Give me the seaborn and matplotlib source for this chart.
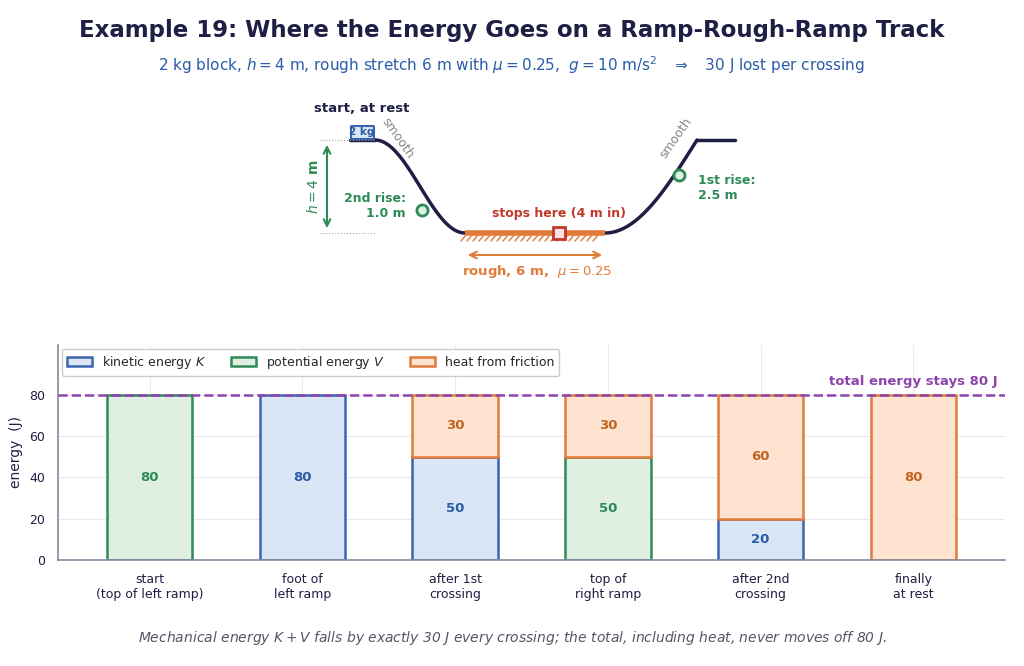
import numpy as np
import pandas as pd
import matplotlib
matplotlib.use("Agg")
import matplotlib.pyplot as plt
import seaborn as sns
from matplotlib.patches import Rectangle, FancyBboxPatch

categories = ["start\n(top of left ramp)", "foot of\nleft ramp", "after 1st\ncrossing",
              "top of\nright ramp", "after 2nd\ncrossing", "finally\nat rest"]
kinetic = [0, 80, 50, 0, 20, 0]
potential = [80, 0, 0, 50, 0, 0]
heat = [0, 0, 30, 30, 60, 80]
total = 80

sns.set_theme(style="whitegrid")
plt.rcParams['font.family'] = ['DejaVu Sans']

fig = plt.figure(figsize=(10.24, 6.66), dpi=100)
W, H = 1024, 666
dark = "#1f1f45"
blue_e, blue_f, blue_t = "#3a66b0", "#dae6f5", "#2a5ca8"
green_e, green_f, green_t = "#2e8b57", "#dff0e3", "#2e8b57"
or_e, or_f, or_t = "#e07b39", "#fde3d0", "#c0651f"
purple = "#8e44ad"

fig.text(0.5, 1 - 30 / H, "Example 19: Where the Energy Goes on a Ramp-Rough-Ramp Track",
         ha="center", va="center", fontsize=16.5, fontweight="bold", color=dark)
fig.text(0.5, 1 - 65 / H,
         r"2 kg block, $h = 4$ m, rough stretch 6 m with $\mu = 0.25$,  $g = 10$ m/s$^2$   $\Rightarrow$   30 J lost per crossing",
         ha="center", va="center", fontsize=11, color=blue_t)
fig.text(0.5, 1 - 638 / H,
         r"Mechanical energy $K + V$ falls by exactly 30 J every crossing; the total, including heat, never moves off 80 J.",
         ha="center", va="center", fontsize=10, style="italic", color="#555566")

# ---- diagram ----
ad = fig.add_axes([0, 1 - 300 / H, 1, 210 / H])
ad.set_xlim(0, W); ad.set_ylim(300, 90); ad.axis("off")
top, bot = 140, 233
t = np.linspace(0, 1, 100)
lx = 375 + 90 * t
ly = top + (bot - top) * (1 - np.cos(np.pi * t)) / 2
rx = 605 + 92 * t
ry = bot - (bot - top) * (1 - np.cos(np.pi / 2 * t))
ad.plot([350, 375], [top, top], color=dark, lw=2.5)
ad.plot(lx, ly, color=dark, lw=2.5)
ad.plot(rx, ry, color=dark, lw=2.5)
ad.plot([697, 735], [top, top], color=dark, lw=2.5)
ad.plot([465, 605], [bot, bot], color=or_e, lw=4, solid_capstyle="butt")
for hx in np.arange(466, 604, 6):
    ad.plot([hx, hx - 5], [bot + 2, bot + 8], color=or_e, lw=1)
ad.add_patch(Rectangle((553, bot - 6), 12, 12, facecolor="#fde0e0", edgecolor="#c0392b", lw=2, zorder=5))
ad.text(559, 213, "stops here (4 m in)", color="#c0392b", fontsize=9, fontweight="bold", ha="center", va="center")
ad.annotate("", xy=(605, 255), xytext=(465, 255),
            arrowprops=dict(arrowstyle="<->", color=or_e, lw=1.5))
ad.text(537, 271, r"rough, 6 m,  $\mu = 0.25$", color=or_e, fontsize=9.5, fontweight="bold", ha="center", va="center")
ad.add_patch(FancyBboxPatch((352, 127), 21, 11, boxstyle="round,pad=1", facecolor=blue_f, edgecolor=blue_e, lw=1.5, zorder=5))
ad.text(362, 132, "2 kg", color=blue_t, fontsize=7.5, fontweight="bold", ha="center", va="center", zorder=6)
ad.text(362, 108, "start, at rest", color=dark, fontsize=9.5, fontweight="bold", ha="center", va="center")
ad.text(398, 138, "smooth", color="#888888", fontsize=9, rotation=-55, ha="center", va="center")
ad.text(676, 138, "smooth", color="#888888", fontsize=9, rotation=55, ha="center", va="center")
ad.plot([320, 375], [140, 140], color="#aaaaaa", lw=0.8, ls=":")
ad.plot([320, 375], [233, 233], color="#aaaaaa", lw=0.8, ls=":")
ad.annotate("", xy=(327, 142), xytext=(327, 231),
            arrowprops=dict(arrowstyle="<->", color=green_e, lw=1.5))
ad.text(313, 187, r"$h = 4$ m", color=green_e, fontsize=10, fontweight="bold", rotation=90, ha="center", va="center")
ad.plot([422], [210], "o", ms=8, mfc=green_f, mec=green_e, mew=2, zorder=6)
ad.text(406, 206, "2nd rise:\n1.0 m", color=green_t, fontsize=9, fontweight="bold", ha="right", va="center", multialignment="right")
ad.plot([679], [175], "o", ms=8, mfc=green_f, mec=green_e, mew=2, zorder=6)
ad.text(698, 188, "1st rise:\n2.5 m", color=green_t, fontsize=9, fontweight="bold", ha="left", va="center")

# ---- bars ----
ax = fig.add_axes([58 / W, 1 - 560 / H, (1005 - 58) / W, 215 / H])
df = pd.DataFrame({"cat": categories, "K": kinetic, "V": potential, "Q": heat})
df["bottomQ"] = df["K"] + df["V"]
layers = [("K", None, blue_f, blue_e, blue_t, "kinetic energy $K$"),
          ("V", None, green_f, green_e, green_t, "potential energy $V$"),
          ("Q", "bottomQ", or_f, or_e, or_t, "heat from friction")]
handles = []
for col, bcol, fc, ec, tc, lab in layers:
    sub = df[df[col] > 0]
    bottom = sub[bcol].values if bcol else sub["K"].values * 0 + (sub["K"].values if col == "V" else 0)
    sns.barplot(x=sub["cat"], y=sub[col], order=categories, bottom=bottom, width=0.56,
                color=fc, edgecolor=ec, linewidth=1.8, ax=ax, saturation=1)
    for i, c in enumerate(categories):
        r = df.iloc[i]
        v = r[col]
        if v > 0:
            b = r[bcol] if bcol else (r["K"] if col == "V" else 0)
            ax.text(i, b + v / 2, f"{v:g}", color=tc, fontsize=9.5, fontweight="bold", ha="center", va="center")
    handles.append(Rectangle((0, 0), 1, 1, facecolor=fc, edgecolor=ec, lw=1.8, label=lab))
ax.axhline(total, color=purple, ls="--", lw=1.8, zorder=5)
ax.text(5.55, 83, "total energy stays 80 J", color=purple, fontsize=9.5, fontweight="bold", ha="right", va="bottom")
ax.set_xlim(-0.6, 5.6); ax.set_ylim(0, 104)
ax.set_yticks([0, 20, 40, 60, 80])
ax.set_xlabel(""); ax.set_ylabel("energy  (J)", fontsize=10, color=dark)
ax.tick_params(labelsize=9, colors=dark)
ax.set_facecolor("white")
ax.grid(color="#e8e8ee", lw=0.8)
for s in ["top", "right"]:
    ax.spines[s].set_visible(False)
for s in ["left", "bottom"]:
    ax.spines[s].set_color("#8888a0"); ax.spines[s].set_linewidth(1.2)
ax.legend(handles=handles, loc="upper left", ncol=3, fontsize=9, frameon=True, framealpha=1,
          borderaxespad=0.3)

fig.savefig("out.png", dpi=100)
